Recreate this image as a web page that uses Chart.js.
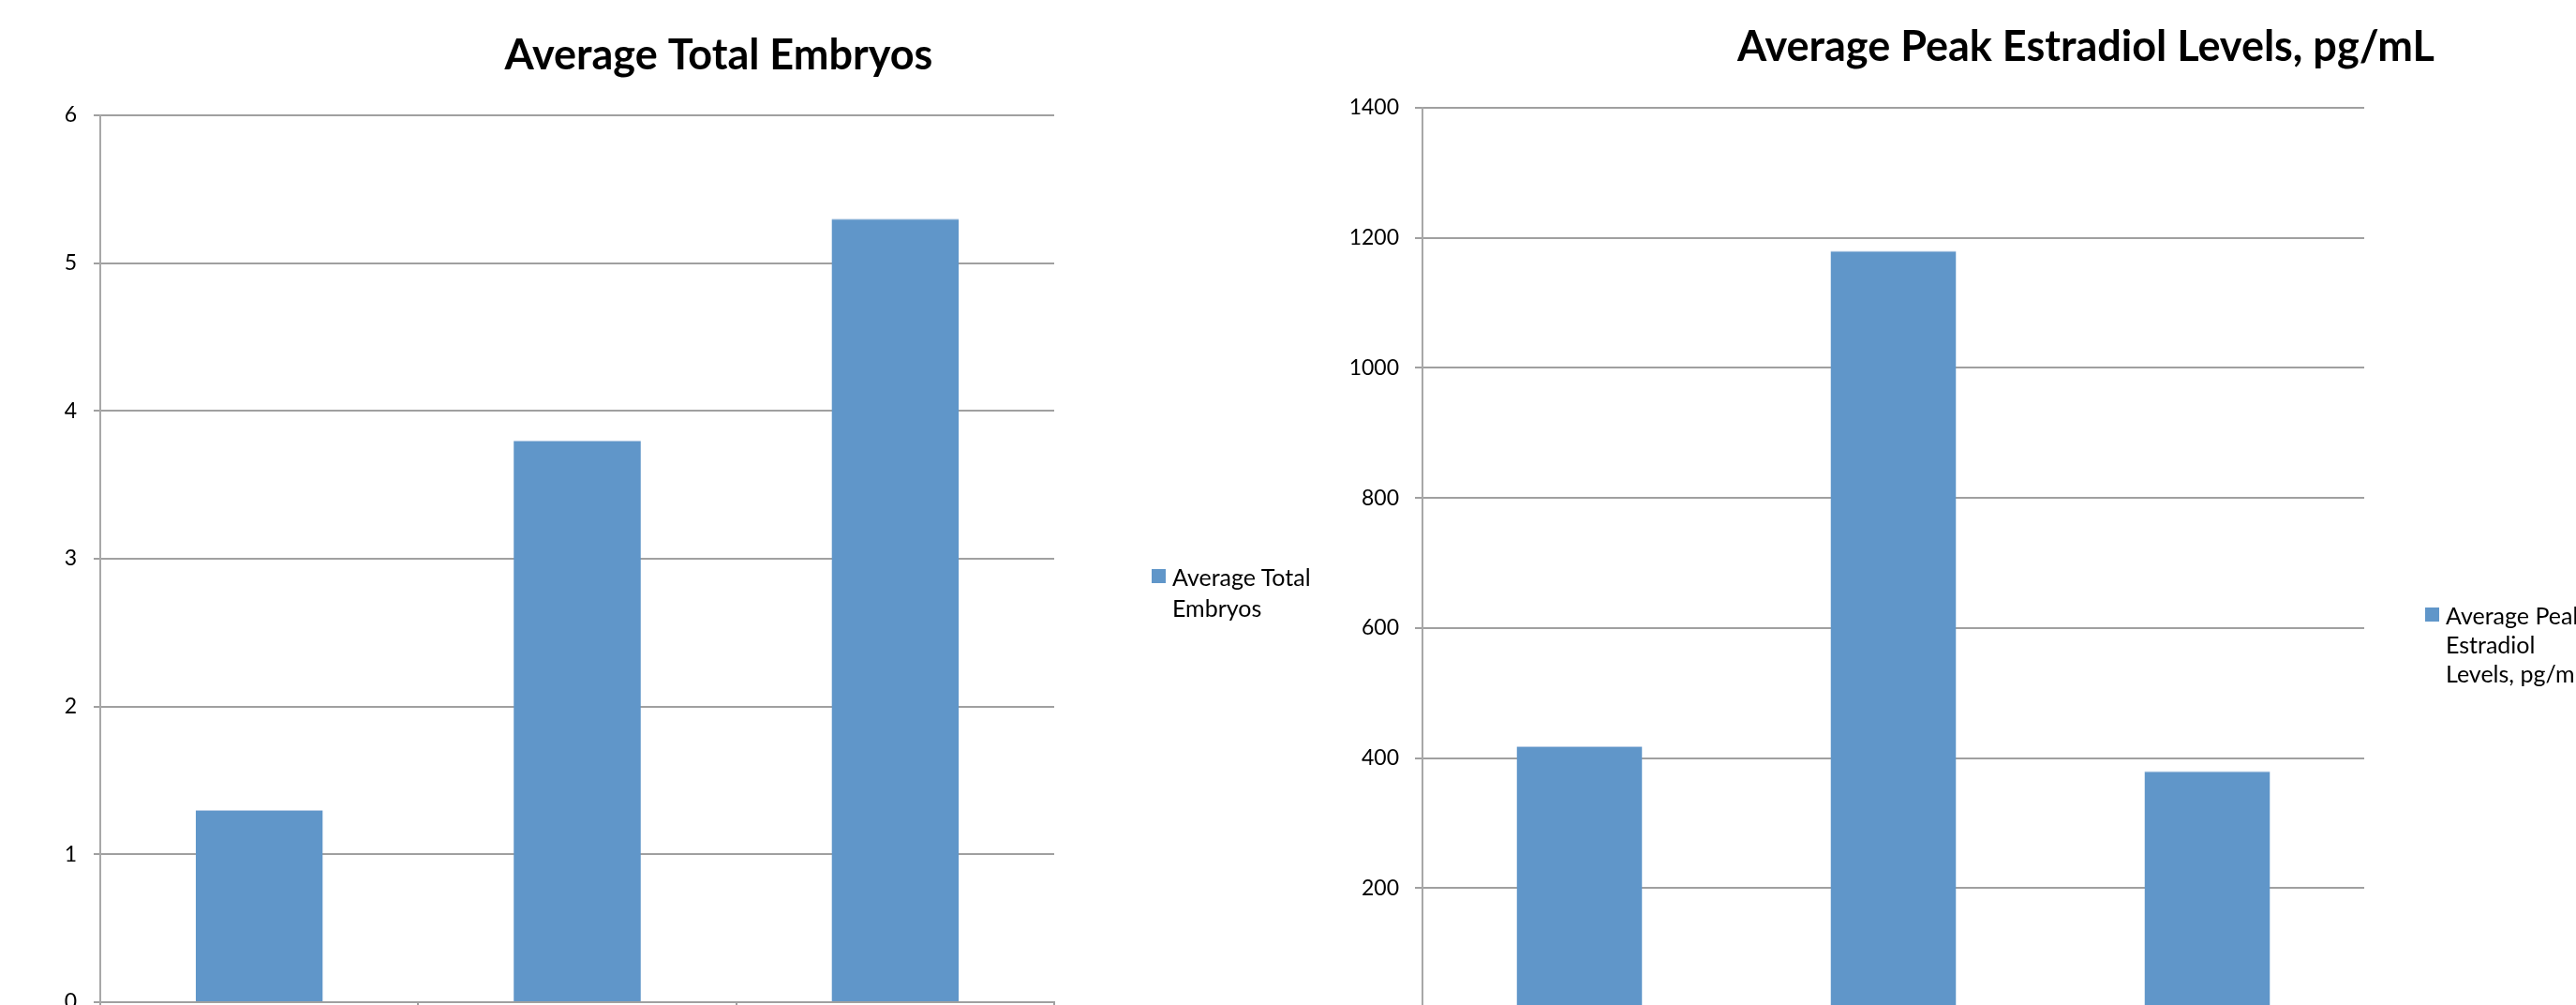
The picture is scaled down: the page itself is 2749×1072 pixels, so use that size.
<!DOCTYPE html>
<html>
<head>
<meta charset="utf-8">
<script src="https://cdn.jsdelivr.net/npm/chart.js@4.4.1/dist/chart.umd.min.js"></script>
<style>
  html, body { margin: 0; padding: 0; background: #fff; overflow: hidden; width: 2749px; height: 1072px; }
  .box { position: absolute; top: 0; }
  canvas { display: block; }
  .legend { position: absolute; display: flex; align-items: flex-start; font-family: Lato, sans-serif; font-size: 25px; color: #000; white-space: nowrap; }
  .legend .sw { width: 15px; height: 15px; margin-right: 7px; flex: none; }
</style>
</head>
<body>
<div class="box" style="left:0px"><canvas id="embryos" width="1534" height="1129"></canvas></div>
<div class="box" style="left:1400px"><canvas id="estradiol" width="1652" height="1146"></canvas></div>
<div class="legend" id="legend1" style="left:1229px; top:599px; line-height:33px"></div>
<div class="legend" id="legend2" style="left:2588px; top:641px; line-height:31px"></div>

<script>
// data
const groups = ["Group 1", "Group 2", "Group 3"];
const embryoValues = [1.3, 3.8, 5.3];
const estradiolValues = [418, 1180, 380];
const embryoTitle = "Average Total Embryos";
const estradiolTitle = "Average Peak Estradiol Levels, pg/mL";
const embryoLegend = ["Average Total", "Embryos"];
const estradiolLegend = ["Average Peak", "Estradiol", "Levels, pg/mL"];

const barColor = "#6096c9";
const gridColor = "#a0a0a0";

Chart.defaults.font.family = "Lato, sans-serif";
Chart.defaults.color = "#000";

function makeChart(canvas, title, values, yMax, yStep, opts) {
  return new Chart(canvas, {
    type: "bar",
    data: {
      labels: groups,
      datasets: [
        {
          label: title,
          data: values,
          backgroundColor: barColor,
          borderColor: "#b9cde5",
          borderWidth: { top: 1, left: 0, right: 0, bottom: 0 },
          barPercentage: 0.4,
          categoryPercentage: 1.0,
        },
      ],
    },
    options: {
      responsive: false,
      animation: false,
      layout: { padding: 0 },
      plugins: {
        legend: { display: false },
        tooltip: { enabled: false },
        title: {
          display: true,
          text: title,
          font: { size: 45, weight: "bold", lineHeight: 1.2 },
          color: "#000",
          padding: opts.titlePad,
        },
      },
      scales: {
        x: {
          grid: { display: true, drawOnChartArea: false, drawTicks: true, tickLength: 8, color: gridColor, lineWidth: 2 },
          border: { display: true, color: gridColor, width: 2 },
          ticks: { font: { size: 23 } },
          afterFit: (s) => { s.height = 60; },
        },
        y: {
          min: 0,
          max: yMax,
          ticks: {
            stepSize: yStep,
            font: { size: 23 },
            padding: opts.tickPad,
            callback: (v) => String(v),
          },
          grid: { color: gridColor, lineWidth: 2, tickLength: opts.tickLen },
          border: { display: true, color: "#a8a8a8", width: 2 },
          afterFit: (s) => { s.width = opts.yWidth; },
        },
        // empty space on the right where the legend sits
        spacer: {
          type: "linear",
          position: "right",
          display: true,
          grid: { display: false },
          border: { display: false },
          ticks: { display: false },
          afterFit: (s) => { s.width = opts.rightSpace; },
        },
      },
    },
  });
}

makeChart(document.getElementById("embryos"), embryoTitle, embryoValues, 6, 1, {
  titlePad: { top: 32, bottom: 37 },
  tickPad: 18,
  tickLen: 7,
  yWidth: 107,
  rightSpace: 409,
});

makeChart(document.getElementById("estradiol"), estradiolTitle, estradiolValues, 1400, 200, {
  titlePad: { top: 23, bottom: 38 },
  tickPad: 17,
  tickLen: 8,
  yWidth: 118,
  rightSpace: 529,
});

function buildLegend(el, lines, capOffset) {
  const sw = document.createElement("div");
  sw.className = "sw";
  sw.style.background = barColor;
  sw.style.marginTop = capOffset + "px";
  const txt = document.createElement("div");
  txt.innerHTML = lines.join("<br>");
  el.appendChild(sw);
  el.appendChild(txt);
}
buildLegend(document.getElementById("legend1"), embryoLegend, 8);
buildLegend(document.getElementById("legend2"), estradiolLegend, 7);
</script>
</body>
</html>
